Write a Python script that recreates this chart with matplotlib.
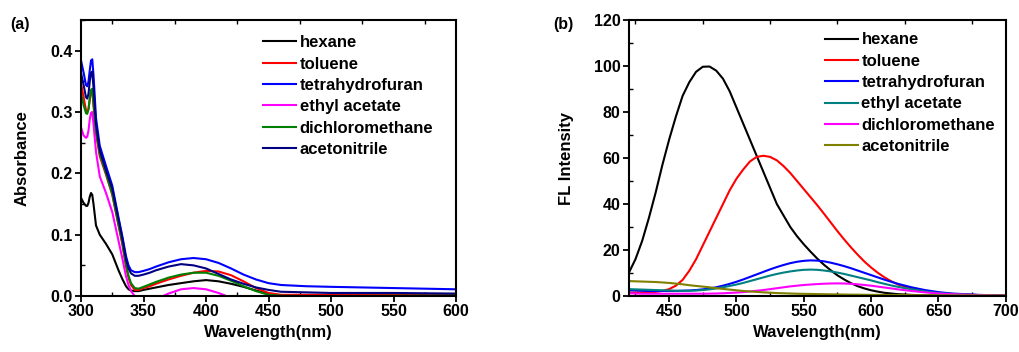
import matplotlib
matplotlib.use('Agg')
import matplotlib.pyplot as plt
from matplotlib.ticker import MultipleLocator

plt.rcParams['font.family'] = ['Liberation Sans', 'DejaVu Sans']
plt.rcParams['font.weight'] = 'bold'

solvents_abs = ['hexane', 'toluene', 'tetrahydrofuran', 'ethyl acetate',
                'dichloromethane', 'acetonitrile']
solvents_fl = ['hexane', 'toluene', 'tetrahydrofuran', 'ethyl acetate',
               'dichloromethane', 'acetonitrile']

# (a) absorbance spectra
wl_abs = [300, 302, 304, 305, 306, 307, 308, 309, 310,
          312, 315, 320, 325, 330,
          333, 336, 338, 340, 343, 346,
          350, 355, 360, 370, 380, 390, 400, 410, 420, 430, 440, 450, 460,
          480, 500, 550, 600]
abs_hexane = [0.160, 0.152, 0.147, 0.147, 0.152, 0.162, 0.168, 0.165, 0.150,
              0.115, 0.100, 0.085, 0.068, 0.042,
              0.028, 0.016, 0.011, 0.009, 0.008, 0.008,
              0.010, 0.012, 0.014, 0.018, 0.021, 0.024, 0.026, 0.024, 0.020, 0.015, 0.009, 0.003, 0.001,
              0.000, 0.000, 0.000, 0.000]
abs_toluene = [0.347, 0.325, 0.303, 0.300, 0.305, 0.320, 0.333, 0.335, 0.310,
               0.265, 0.228, 0.198, 0.165, 0.115,
               0.085, 0.048, 0.030, 0.018, 0.010, 0.010,
               0.013, 0.016, 0.020, 0.027, 0.033, 0.038, 0.041, 0.040, 0.034, 0.024, 0.013, 0.005, 0.002,
               0.002, 0.002, 0.002, 0.002]
abs_thf = [0.384, 0.365, 0.344, 0.342, 0.350, 0.368, 0.384, 0.386, 0.360,
           0.290, 0.245, 0.212, 0.180, 0.128,
           0.098, 0.065, 0.050, 0.042, 0.039, 0.039,
           0.041, 0.044, 0.048, 0.055, 0.060, 0.062, 0.060, 0.054, 0.045, 0.035, 0.027, 0.021, 0.018,
           0.016, 0.015, 0.013, 0.011]
abs_etoac = [0.275, 0.262, 0.258, 0.260, 0.270, 0.288, 0.299, 0.300, 0.280,
             0.235, 0.195, 0.168, 0.137, 0.090,
             0.062, 0.032, 0.018, 0.008, 0.000, -0.005,
             -0.009, -0.009, -0.005, 0.004, 0.011, 0.013, 0.011, 0.005, -0.003, -0.010, -0.015, -0.018, -0.020,
             -0.020, -0.020, -0.020, -0.020]
abs_dcm = [0.330, 0.312, 0.298, 0.297, 0.305, 0.322, 0.336, 0.338, 0.315,
           0.270, 0.232, 0.200, 0.167, 0.117,
           0.088, 0.052, 0.033, 0.021, 0.013, 0.012,
           0.015, 0.019, 0.023, 0.030, 0.035, 0.038, 0.038, 0.033, 0.025, 0.016, 0.008, 0.002, 0.0005,
           0.000, 0.000, 0.0005, 0.001]
abs_mecn = [0.364, 0.345, 0.324, 0.322, 0.330, 0.350, 0.364, 0.366, 0.340,
            0.280, 0.238, 0.205, 0.175, 0.125,
            0.095, 0.060, 0.045, 0.037, 0.033, 0.033,
            0.035, 0.038, 0.042, 0.048, 0.052, 0.050, 0.045, 0.036, 0.027, 0.020, 0.014, 0.010, 0.007,
            0.006, 0.005, 0.005, 0.004]

# (b) fluorescence spectra
wl_fl = [420, 425, 430, 435, 440, 445, 450, 455, 460, 465, 470,
         475, 480, 485, 490, 495, 500, 505, 510, 515, 520, 525,
         530, 535, 540, 545, 550, 555, 560, 565, 570, 575, 580,
         585, 590, 595, 600, 605, 610, 615, 620,
         630, 640, 650, 660, 680, 700]
fl_hexane = [10, 16, 24, 34, 45, 57, 68, 78, 87, 93, 97.5,
             99.7, 99.8, 98, 94.5, 89, 82, 75, 68, 61, 54, 47,
             40, 35, 30, 26, 22.5, 19.3, 16.3, 13.6, 11.2, 9, 7.2,
             5.6, 4.3, 3.3, 2.5, 1.9, 1.4, 1.1, 0.8,
             0.5, 0.3, 0.2, 0.1, 0.05, 0]
fl_toluene = [1.5, 1.5, 1.6, 1.7, 1.8, 2.2, 3, 4.5, 7, 11, 16,
              22, 28, 34, 40, 46, 51, 55, 58.5, 60.5, 61, 60.5,
              59, 56.5, 53.5, 50, 46.5, 43, 39.5, 35.8, 32, 28.2, 24.6,
              21.2, 18, 15, 12.4, 10.1, 8.1, 6.4, 5,
              3.2, 2, 1.3, 0.9, 0.4, 0.2]
fl_thf = [2.5, 2.4, 2.3, 2.2, 2.2, 2.2, 2.2, 2.2, 2.3, 2.4, 2.6,
          2.9, 3.3, 3.8, 4.5, 5.3, 6.2, 7.2, 8.3, 9.4, 10.5, 11.6,
          12.6, 13.5, 14.3, 14.9, 15.3, 15.5, 15.4, 15.1, 14.5, 13.8, 13,
          12.1, 11.1, 10.1, 9.1, 8.1, 7.1, 6.2, 5.3,
          3.8, 2.6, 1.7, 1.1, 0.5, 0.2]
fl_etoac = [3, 2.9, 2.8, 2.7, 2.6, 2.5, 2.4, 2.3, 2.3, 2.3, 2.4,
            2.6, 2.9, 3.3, 3.8, 4.4, 5.0, 5.7, 6.5, 7.3, 8.1, 8.9,
            9.6, 10.2, 10.7, 11.1, 11.4, 11.5, 11.4, 11.1, 10.7, 10.2, 9.6,
            8.9, 8.2, 7.5, 6.8, 6.0, 5.3, 4.6, 4.0,
            2.9, 2.0, 1.3, 0.9, 0.4, 0.2]
fl_dcm = [1.2, 1.1, 1.0, 1.0, 1.0, 1.0, 1.0, 1.0, 1.0, 1.0, 1.0,
          1.0, 1.05, 1.1, 1.2, 1.35, 1.5, 1.7, 2.0, 2.3, 2.6, 3.0,
          3.4, 3.8, 4.2, 4.5, 4.8, 5.0, 5.2, 5.35, 5.45, 5.5, 5.45,
          5.3, 5.1, 4.8, 4.5, 4.1, 3.7, 3.3, 2.9,
          2.2, 1.6, 1.1, 0.8, 0.4, 0.2]
fl_mecn = [6.5, 6.4, 6.3, 6.2, 6.1, 5.9, 5.7, 5.4, 5.1, 4.7, 4.4,
           4.1, 3.8, 3.4, 3.1, 2.8, 2.5, 2.2, 2.0, 1.8, 1.6, 1.45,
           1.3, 1.2, 1.1, 1.0, 0.95, 0.9, 0.85, 0.8, 0.75, 0.7, 0.65,
           0.6, 0.58, 0.55, 0.52, 0.5, 0.48, 0.46, 0.44,
           0.4, 0.35, 0.3, 0.3, 0.25, 0.2]

abs_series = [abs_hexane, abs_toluene, abs_thf, abs_etoac, abs_dcm, abs_mecn]
abs_colors = ['#000000', '#ff0000', '#0000ff', '#ff00ff', '#008000', '#000080']
fl_series = [fl_hexane, fl_toluene, fl_thf, fl_etoac, fl_dcm, fl_mecn]
fl_colors = ['#000000', '#ff0000', '#0000ff', '#008080', '#ff00ff', '#808000']

fig = plt.figure(figsize=(10.19, 3.52), dpi=100)
ax1 = fig.add_axes([0.0795, 0.159, 0.368, 0.784])
ax2 = fig.add_axes([0.617, 0.159, 0.370, 0.784])


def style_axis(ax):
    for sp in ax.spines.values():
        sp.set_linewidth(1.5)
    ax.tick_params(which='major', direction='out', length=4, width=1.3,
                   labelsize=11.5, pad=2)
    ax.tick_params(which='minor', direction='in', length=3, width=1.0,
                   top=True, right=False)
    for lab in ax.get_xticklabels() + ax.get_yticklabels():
        lab.set_fontweight('bold')


# Plot (a)
for vals, name, c in zip(abs_series, solvents_abs, abs_colors):
    ax1.plot(wl_abs, vals, color=c, lw=1.5, label=name)
ax1.set_xlim(300, 600)
ax1.set_ylim(0, 0.45)
ax1.set_xticks([300, 350, 400, 450, 500, 550, 600])
ax1.set_yticks([0.0, 0.1, 0.2, 0.3, 0.4])
ax1.xaxis.set_minor_locator(MultipleLocator(25))
ax1.yaxis.set_minor_locator(MultipleLocator(0.05))
style_axis(ax1)
ax1.set_xlabel('Wavelength(nm)', fontsize=12, fontweight='bold', labelpad=4)
ax1.set_ylabel('Absorbance', fontsize=12, fontweight='bold', labelpad=15)
ax1.legend(loc='upper left', bbox_to_anchor=(0.485, 0.945), frameon=False,
           borderpad=0, borderaxespad=0, handlelength=2.0, handletextpad=0.2,
           labelspacing=0.38, prop={'size': 12, 'weight': 'bold'})

# Plot (b)
for vals, name, c in zip(fl_series, solvents_fl, fl_colors):
    ax2.plot(wl_fl, vals, color=c, lw=1.5, label=name)
ax2.set_xlim(420, 700)
ax2.set_ylim(0, 120)
ax2.set_xticks([450, 500, 550, 600, 650, 700])
ax2.set_yticks([0, 20, 40, 60, 80, 100, 120])
ax2.xaxis.set_minor_locator(MultipleLocator(25))
ax2.yaxis.set_minor_locator(MultipleLocator(10))
style_axis(ax2)
ax2.set_xlabel('Wavelength(nm)', fontsize=12, fontweight='bold', labelpad=4)
ax2.set_ylabel('FL Intensity', fontsize=12, fontweight='bold', labelpad=14)
ax2.legend(loc='upper left', bbox_to_anchor=(0.52, 0.955), frameon=False,
           borderpad=0, borderaxespad=0, handlelength=2.0, handletextpad=0.2,
           labelspacing=0.38, prop={'size': 12, 'weight': 'bold'})

fig.text(0.010, 0.929, '(a)', fontsize=11.5, fontweight='bold', va='center')
fig.text(0.543, 0.929, '(b)', fontsize=11.5, fontweight='bold', va='center')

fig.savefig('out.png', dpi=100)
